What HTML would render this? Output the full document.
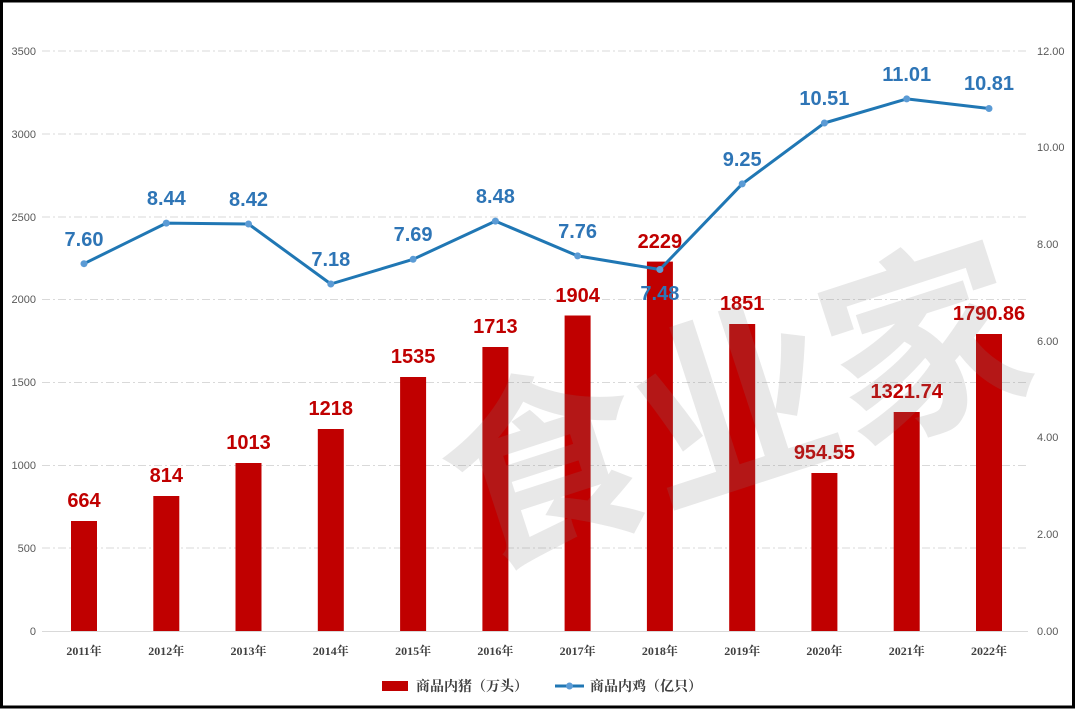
<!DOCTYPE html>
<html><head><meta charset="utf-8"><style>
html,body{margin:0;padding:0;background:#fff}
svg{display:block}
</style></head><body>
<svg width="1075" height="710" viewBox="0 0 1075 710" xmlns="http://www.w3.org/2000/svg" font-family="Liberation Sans, Noto Sans CJK SC, sans-serif">
<rect x="0" y="0" width="1075" height="710" fill="#fff"/>
<rect x="1.5" y="1" width="1072" height="706" fill="none" stroke="#000" stroke-width="3"/>
<g stroke="#d9d9d9" stroke-width="1" stroke-dasharray="8,3,2,3">
<line x1="42" y1="51" x2="1028" y2="51"/><line x1="42" y1="134" x2="1028" y2="134"/>
<line x1="42" y1="217" x2="1028" y2="217"/><line x1="42" y1="299.5" x2="1028" y2="299.5"/>
<line x1="42" y1="382.5" x2="1028" y2="382.5"/><line x1="42" y1="465.5" x2="1028" y2="465.5"/>
<line x1="42" y1="548" x2="1028" y2="548"/>
</g>
<line x1="42" y1="631.5" x2="1028" y2="631.5" stroke="#d9d9d9"/>
<g font-size="11" fill="#595959" text-anchor="end">
<text x="36" y="55">3500</text><text x="36" y="138">3000</text><text x="36" y="221">2500</text>
<text x="36" y="303">2000</text><text x="36" y="386">1500</text><text x="36" y="469">1000</text>
<text x="36" y="552">500</text><text x="36" y="635">0</text>
</g>
<g font-size="11" fill="#595959">
<text x="1037" y="55">12.00</text><text x="1037" y="151">10.00</text><text x="1037" y="248">8.00</text>
<text x="1037" y="345">6.00</text><text x="1037" y="441">4.00</text><text x="1037" y="538">2.00</text>
<text x="1037" y="635">0.00</text>
</g>
<g fill="#c00000">
<rect x="71" y="521" width="26" height="110"/><rect x="153.3" y="496" width="26" height="135"/>
<rect x="235.5" y="463" width="26" height="168"/><rect x="317.8" y="429" width="26" height="202"/>
<rect x="400.1" y="377" width="26" height="254"/><rect x="482.4" y="347" width="26" height="284"/>
<rect x="564.6" y="315.5" width="26" height="315.5"/><rect x="646.9" y="261.6" width="26" height="369.4"/>
<rect x="729.2" y="324" width="26" height="307"/><rect x="811.4" y="473" width="26" height="158"/>
<rect x="893.7" y="412" width="26" height="219"/><rect x="976" y="334" width="26" height="297"/>
</g>
<g font-size="20" font-weight="bold" fill="#c00000" text-anchor="middle">
<text x="84" y="507">664</text><text x="166.3" y="482">814</text><text x="248.5" y="449">1013</text>
<text x="330.8" y="415">1218</text><text x="413.1" y="363">1535</text><text x="495.4" y="333">1713</text>
<text x="577.6" y="302">1904</text><text x="659.9" y="248">2229</text><text x="742.2" y="310">1851</text>
<text x="824.4" y="459">954.55</text><text x="906.7" y="398">1321.74</text><text x="989" y="320">1790.86</text>
</g>
<polyline fill="none" stroke="#2077b4" stroke-width="3" stroke-linejoin="round" points="84,263.7 166.3,223.1 248.5,224 330.8,284 413.1,259.3 495.4,221.1 577.6,255.9 659.9,269.5 742.2,183.9 824.4,123 906.7,98.9 989,108.5"/>
<g fill="#5b9bd5">
<circle cx="84" cy="263.7" r="3.5"/><circle cx="166.3" cy="223.1" r="3.5"/><circle cx="248.5" cy="224" r="3.5"/>
<circle cx="330.8" cy="284" r="3.5"/><circle cx="413.1" cy="259.3" r="3.5"/><circle cx="495.4" cy="221.1" r="3.5"/>
<circle cx="577.6" cy="255.9" r="3.5"/><circle cx="659.9" cy="269.5" r="3.5"/><circle cx="742.2" cy="183.9" r="3.5"/>
<circle cx="824.4" cy="123" r="3.5"/><circle cx="906.7" cy="98.9" r="3.5"/><circle cx="989" cy="108.5" r="3.5"/>
</g>
<g font-size="20" font-weight="bold" fill="#2e75b6" text-anchor="middle">
<text x="84" y="246">7.60</text><text x="166.3" y="205">8.44</text><text x="248.5" y="206">8.42</text>
<text x="330.8" y="266">7.18</text><text x="413.1" y="241">7.69</text><text x="495.4" y="203">8.48</text>
<text x="577.6" y="238">7.76</text><text x="659.9" y="300">7.48</text><text x="742.2" y="166">9.25</text>
<text x="824.4" y="105">10.51</text><text x="906.7" y="81">11.01</text><text x="989" y="90">10.81</text>
</g>
<text x="0" y="0" transform="translate(730,392) rotate(-18)" text-anchor="middle" dominant-baseline="central" font-family="Noto Sans CJK SC, sans-serif" font-size="200" font-weight="bold" fill="#808080" fill-opacity="0.18">食业家</text>
<g font-size="12" font-weight="bold" fill="#404040" text-anchor="middle" font-family="Liberation Serif, Noto Serif CJK SC, serif">
<text x="84" y="655">2011年</text><text x="166.3" y="655">2012年</text><text x="248.5" y="655">2013年</text>
<text x="330.8" y="655">2014年</text><text x="413.1" y="655">2015年</text><text x="495.4" y="655">2016年</text>
<text x="577.6" y="655">2017年</text><text x="659.9" y="655">2018年</text><text x="742.2" y="655">2019年</text>
<text x="824.4" y="655">2020年</text><text x="906.7" y="655">2021年</text><text x="989" y="655">2022年</text>
</g>
<rect x="382" y="681" width="26" height="10" fill="#c00000"/>
<line x1="555" y1="686" x2="584" y2="686" stroke="#2077b4" stroke-width="3"/>
<circle cx="569.5" cy="686" r="3.5" fill="#5b9bd5"/>
<g font-size="14" font-weight="bold" fill="#404040" font-family="Noto Serif CJK SC, serif">
<text x="416" y="691">商品内猪（万头）</text>
<text x="590" y="691">商品内鸡（亿只）</text>
</g>
</svg>
</body></html>
